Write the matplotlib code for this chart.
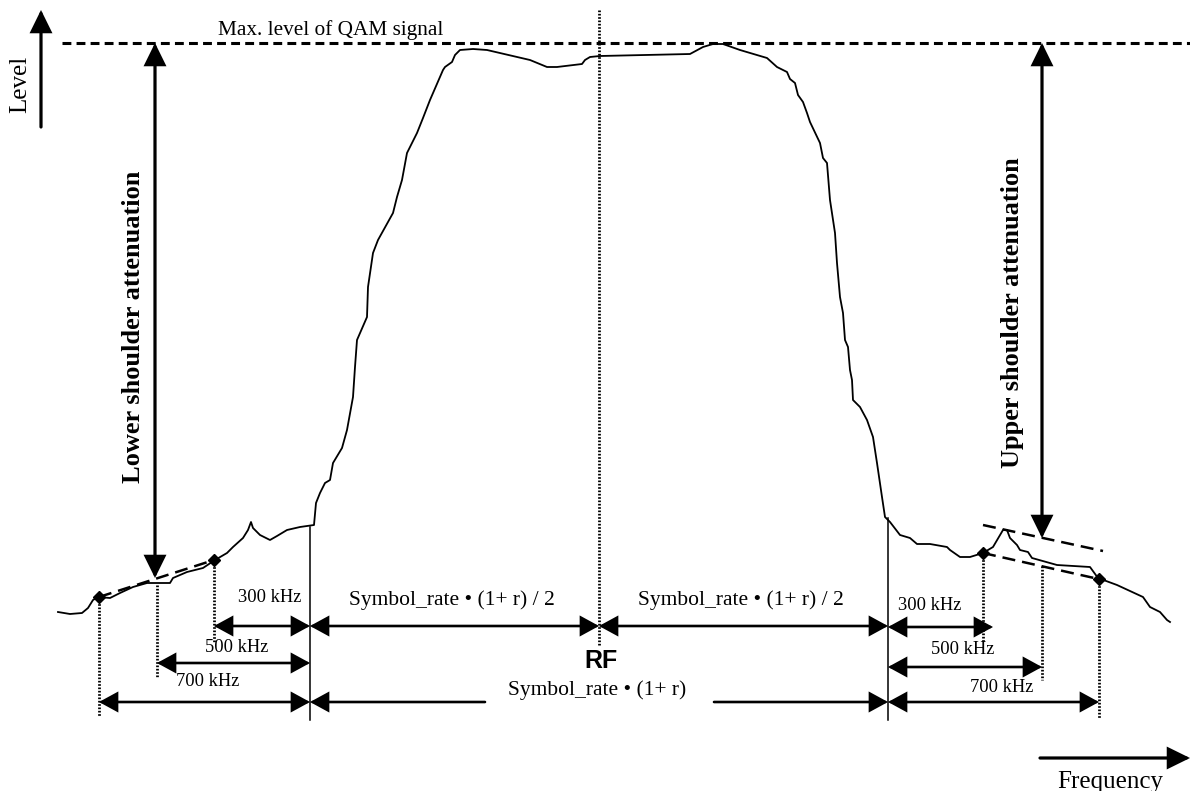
import matplotlib
matplotlib.use('Agg')
import matplotlib.pyplot as plt
from matplotlib.patches import FancyArrowPatch

plt.rcParams['font.family'] = ['Liberation Serif', 'DejaVu Serif']

# diagram drawn in image coordinates (x right, y down)
W, H = 1190, 791

# measured spectrum trace
trace_x = [58, 70, 82, 88, 93, 98, 110, 120, 133, 147, 157, 170, 173, 187, 203, 215,
           227, 233, 243, 248, 251, 253, 260, 270, 277, 287, 300, 314,
           316, 320, 325, 330, 333, 342, 347, 353, 355, 357, 367, 368, 373, 378,
           393, 397, 402, 407, 417, 423, 430, 443, 445, 452, 455, 460, 473, 487,
           530, 547, 557, 582, 585, 590, 600, 690, 703, 713, 723, 740, 767, 777,
           787, 790, 795, 798, 803, 807, 810, 820, 823, 827, 830, 835, 837, 840,
           843, 845, 848, 850, 852, 853, 860, 867, 873, 877, 882, 885, 890, 900,
           910, 917, 930, 947, 950, 960, 970, 983, 993, 1003, 1007, 1010, 1017,
           1020, 1028, 1032, 1057, 1090, 1098, 1117, 1143, 1150, 1160, 1167, 1170]
trace_y = [612, 614, 613, 608, 600, 597, 598, 593, 587, 583, 583, 583, 578, 572, 568, 560,
           553, 547, 538, 530, 522, 528, 535, 540, 536, 530, 527, 525,
           503, 493, 483, 480, 463, 448, 430, 397, 367, 340, 317, 287, 253, 240,
           213, 197, 180, 153, 133, 118, 100, 70, 67, 62, 55, 50, 49, 50,
           60, 67, 67, 64, 60, 57, 56, 54, 47, 44, 44, 50, 58, 67,
           72, 79, 83, 95, 102, 113, 122, 143, 158, 163, 200, 233, 263, 297,
           313, 340, 347, 370, 380, 400, 407, 420, 437, 463, 497, 517, 522, 535,
           538, 544, 544, 547, 550, 557, 557, 553, 547, 530, 530, 538, 545,
           550, 552, 558, 565, 567, 578, 585, 597, 607, 612, 620, 622]

max_level_y = 43
rf_x = 599
band_left, band_right = 310, 888
offset_labels = ['300 kHz', '500 kHz', '700 kHz']
left_offset_x = [214, 157, 99]
right_offset_x = [983, 1042, 1099]
left_offset_y = [560, 585, 597]
right_offset_y = [553, 566, 579]

fig = plt.figure(figsize=(11.9, 7.91), dpi=100)
ax = fig.add_axes([0, 0, 1, 1])
ax.set_xlim(0, W)
ax.set_ylim(H, 0)
ax.axis('off')


def arrow(x0, y0, x1, y1, style='<|-|>', lw=1.9, hl=0.55, hw=0.3):
    st = '%s,head_length=%g,head_width=%g' % (style, hl, hw)
    ax.add_patch(FancyArrowPatch((x0, y0), (x1, y1), arrowstyle=st,
                                 mutation_scale=20, lw=lw, color='k',
                                 shrinkA=0, shrinkB=0, joinstyle='miter'))


dotted = dict(color='k', lw=2.0, dashes=(0.6, 0.6))

# spectrum
ax.plot(trace_x, trace_y, color='k', lw=1.3, solid_joinstyle='round')

# max level
ax.plot([62, W], [max_level_y, max_level_y], color='k', lw=2.2, dashes=(2.9, 1.7))
ax.text(218, 35, 'Max. level of QAM signal', fontsize=15.3, va='baseline')

# RF centre line
ax.plot([rf_x, rf_x], [10, 645], **dotted)
ax.text(601, 661, 'RF', fontsize=18, fontweight='bold', ha='center', va='center',
        family=['Liberation Sans', 'DejaVu Sans'])

# band edges
ax.plot([band_left, band_left], [527, 720], color='k', lw=1.1)
ax.plot([band_right, band_right], [518, 720], color='k', lw=1.1)

# offset dotted lines
left_bottom = [642, 678, 717]
right_bottom = [643, 680, 718]
for x, y0, y1 in zip(left_offset_x, left_offset_y, left_bottom):
    ax.plot([x, x], [y0, y1], **dotted)
for x, y0, y1 in zip(right_offset_x, right_offset_y, right_bottom):
    ax.plot([x, x], [y0, y1], **dotted)

# shoulder dashed lines and points
ax.plot([left_offset_x[2], left_offset_x[0]], [left_offset_y[2], left_offset_y[0]],
        color='k', lw=1.8, dashes=(5.2, 2.8))
ax.plot([983, 1103], [553, 580], color='k', lw=1.8, dashes=(5.2, 2.8))
ax.plot([983, 1103], [525, 551], color='k', lw=1.8, dashes=(5.2, 2.8))
ax.plot([left_offset_x[2], left_offset_x[0], right_offset_x[0], right_offset_x[2]],
        [left_offset_y[2], left_offset_y[0], right_offset_y[0], right_offset_y[2]],
        'D', color='k', ms=6)

# shoulder attenuation arrows
arrow(155, max_level_y, 155, 578, lw=2.3, hl=0.65, hw=0.32)
arrow(1042, max_level_y, 1042, 538, lw=2.3, hl=0.65, hw=0.32)
ax.text(133, 327, 'Lower shoulder attenuation', fontsize=19, fontweight='bold',
        rotation=90, ha='center', va='center')
ax.text(1013, 313, 'Upper shoulder attenuation', fontsize=19, fontweight='bold',
        rotation=90, ha='center', va='center')

# axis arrows
arrow(41, 127, 41, 10, style='-|>', lw=2.3, hl=0.65, hw=0.32)
ax.text(20, 84, 'Level', fontsize=18, rotation=90, ha='center', va='center')
arrow(1040, 758, 1190, 758, style='-|>', lw=2.3, hl=0.65, hw=0.32)
ax.text(1110, 788, 'Frequency', fontsize=18, ha='center', va='baseline')

# dimension arrows
row1, row3 = 626, 702
arrow(left_offset_x[0], row1, band_left, row1)
arrow(band_left, row1, rf_x, row1)
arrow(rf_x, row1, band_right, row1)
arrow(band_right, 627, 993, 627)
arrow(left_offset_x[1], 663, band_left, 663)
arrow(band_right, 667, right_offset_x[1], 667)
arrow(left_offset_x[2], row3, band_left, row3)
arrow(band_right, row3, right_offset_x[2], row3)
arrow(485, row3, band_left, row3, style='-|>')
arrow(714, row3, band_right, row3, style='-|>')

ax.text(452, 600, 'Symbol_rate \u2022 (1+ r) / 2', fontsize=15.5, ha='center', va='center')
ax.text(741, 600, 'Symbol_rate \u2022 (1+ r) / 2', fontsize=15.5, ha='center', va='center')
ax.text(597, 690, 'Symbol_rate \u2022 (1+ r)', fontsize=15.5, ha='center', va='center')

left_lab = [(270, 598), (237, 648), (208, 682)]
right_lab = [(930, 605), (963, 649), (1002, 687)]
for lab, (x, y) in zip(offset_labels, left_lab):
    ax.text(x, y, lab, fontsize=13.3, ha='center', va='center')
for lab, (x, y) in zip(offset_labels, right_lab):
    ax.text(x, y, lab, fontsize=13.3, ha='center', va='center')

fig.savefig('out.png', dpi=100)
